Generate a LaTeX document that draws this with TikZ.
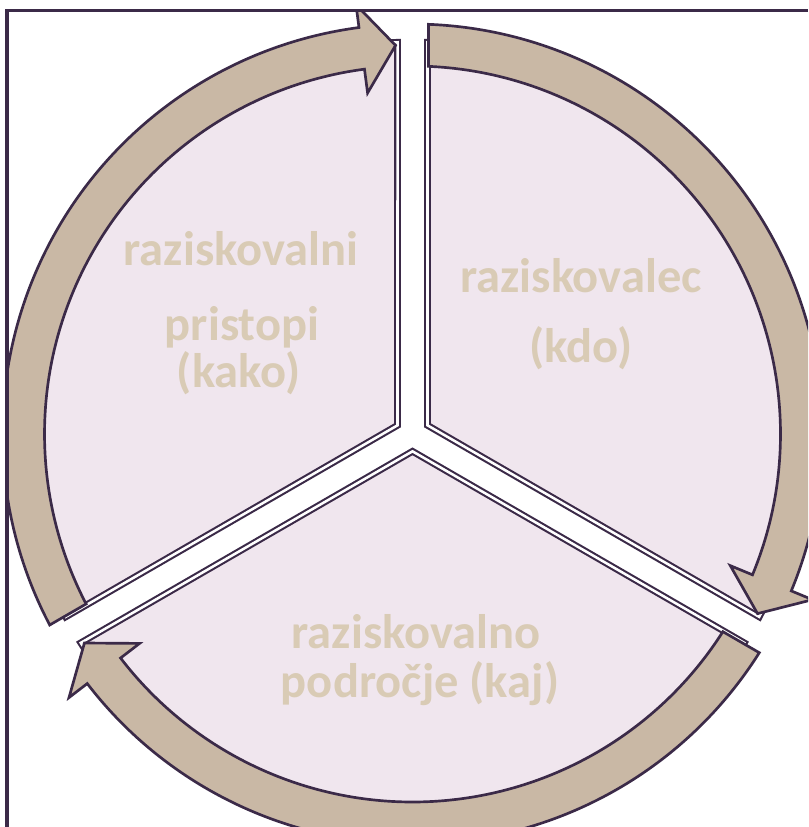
\documentclass[tikz,border=0pt]{standalone}
\usepackage{fontspec}
\setmainfont{Carlito}
\definecolor{pinkfill}{HTML}{F0E6EE}
\definecolor{tanband}{HTML}{C9B8A5}
\definecolor{darkline}{HTML}{3B2A48}
\definecolor{labeltxt}{HTML}{D9CBB5}
\newcommand\ringarrow[2]{%
  \path[bandstyle] ({#1-asin(16/410)}:410)
    arc[start angle={#1-asin(16/410)}, end angle={#2+7.5}, radius=410]
    -- ({#2+7.5}:433) -- ({#2+2.5}:389) -- ({#2+7.5}:344) -- ({#2+7.5}:368)
    arc[start angle={#2+7.5}, end angle={#1-asin(16/368)}, radius=368] -- cycle;}
\newcommand\pinksector[1]{%
  \path[sectorstyle] ({#1+60}:17.32) -- ({#1+asin(15/392)}:392)
    arc[start angle={#1+asin(15/392)}, end angle={#1+120-asin(15/392)}, radius=392] -- cycle;}
\begin{document}
\begin{tikzpicture}[x=0.25mm,y=0.25mm,
  sectorstyle/.style={fill=pinkfill, draw=darkline, line width=1.5pt, double=white, double distance=1.8pt, line join=miter},
  bandstyle/.style={fill=tanband, draw=darkline, line width=1.9pt, line join=miter},
  lbl/.style={text=labeltxt, font=\bfseries\fontsize{34.5}{40}\selectfont, anchor=base, inner sep=0pt}]
\useasboundingbox (0,0) rectangle (808,-827);
\begin{scope}
  \clip (8.5,-12.5) rectangle (808,-827);
  \begin{scope}[shift={(412.5,-434)}]
    \pinksector{-30}
    \pinksector{90}
    \pinksector{210}
    \ringarrow{210}{90}
    \ringarrow{90}{-30}
    \ringarrow{330}{210}
  \end{scope}
\end{scope}
\draw[darkline, line width=2.2pt] (7,-827) -- (7,-10.5) -- (808,-10.5);
\node[lbl] (a1) at (241,-265) {raziskovalni};
\node[lbl] (a2) at (242,-340) {pristopi};
\node[lbl] (a3) at (239,-387) {(kako)};
\node[lbl] (b1) at (581,-292) {raziskovalec};
\node[lbl] (b2) at (581,-362) {(kdo)};
\node[lbl] (c1) at (416,-648) {raziskovalno};
\node[lbl] (c2) at (420,-697) {področje (kaj)};
\end{tikzpicture}
\end{document}
